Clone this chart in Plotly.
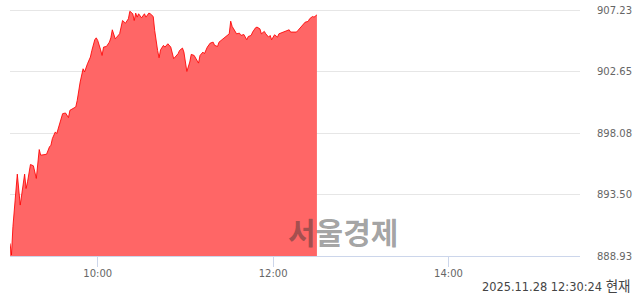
import plotly.graph_objects as go

day = "2025-11-28 "
times = ["09:00","09:01","09:02","09:05","09:07","09:08","09:10","09:11","09:12","09:14",
         "09:16","09:18","09:20","09:21","09:25","09:27","09:28","09:29","09:31","09:32",
         "09:34","09:36","09:38","09:40","09:41","09:43","09:45","09:46","09:48","09:50",
         "09:51","09:53","09:55","09:56","09:58","09:59","10:00","10:02","10:03","10:04",
         "10:06","10:08","10:09","10:10","10:12","10:13","10:15","10:16","10:17","10:19",
         "10:21","10:22","10:24","10:25","10:26","10:27","10:28","10:30","10:32","10:33",
         "10:35","10:36","10:38","10:39","10:40","10:41","10:42","10:43","10:45","10:46",
         "10:48","10:49","10:50","10:52","10:53","10:55","10:56","10:58","10:59","11:00",
         "11:01","11:03","11:04","11:06","11:08","11:09","11:10","11:12","11:13","11:15",
         "11:17","11:19","11:20","11:22","11:23","11:25","11:26","11:28","11:30","11:31",
         "11:32","11:33","11:35","11:37","11:38","11:40","11:42","11:43","11:45","11:46",
         "11:48","11:49","11:51","11:52","11:54","11:55","11:57","11:58","11:59","12:01",
         "12:03","12:04","12:06","12:08","12:09","12:11","12:12","12:14","12:16","12:17",
         "12:19","12:21","12:22","12:24","12:25","12:27","12:28","12:30"]
values = [889.87,889.00,891.11,895.02,892.72,893.63,895.02,893.95,894.45,895.74,
          895.64,894.70,896.85,896.43,896.50,897.05,897.17,897.67,898.16,898.04,
          898.78,899.52,899.57,899.23,899.77,899.89,900.02,900.51,901.87,902.86,
          902.62,903.23,903.73,904.22,905.02,905.16,904.97,904.27,903.85,904.47,
          904.52,904.84,905.16,905.76,905.09,905.21,905.46,905.96,906.45,906.25,
          906.58,907.14,906.95,906.45,907.00,906.70,906.95,906.65,906.95,906.70,
          907.00,906.95,906.75,905.71,904.84,904.22,903.68,904.27,904.60,904.47,
          904.72,904.60,904.47,903.61,903.73,903.98,904.22,904.40,904.10,903.36,
          902.66,903.36,903.93,903.85,903.48,903.28,903.85,904.10,903.98,904.47,
          904.77,904.84,904.60,904.52,904.84,905.02,905.09,905.26,905.46,906.40,
          906.01,905.83,905.46,905.51,905.34,905.41,905.02,905.26,905.34,905.59,
          905.91,905.96,905.83,905.46,905.64,905.46,905.21,905.34,905.02,905.39,
          905.21,905.46,905.54,905.64,905.71,905.76,905.59,905.59,905.59,905.71,
          905.96,906.16,906.33,906.38,906.58,906.75,906.70,906.87]
y_ticks = [888.93, 893.50, 898.08, 902.65, 907.23]
x_ticks = ["10:00", "12:00", "14:00"]
x_range = ["09:00", "15:30"]
stamp_time = "2025.11.28 12:30:24"
stamp_suffix = "현재"
watermark = "서울경제"

fig = go.Figure()
fig.add_trace(go.Scatter(
    x=[day + t for t in times], y=values, mode="lines",
    line=dict(color="rgba(255,0,0,0.85)", width=1),
    fill="tozeroy", fillcolor="rgb(255,102,102)",
    hoverinfo="skip", showlegend=False,
))

fig.update_layout(
    width=640, height=294,
    margin=dict(l=10, r=60, t=8, b=38, autoexpand=False),
    paper_bgcolor="white", plot_bgcolor="white",
    xaxis=dict(
        type="date", automargin=False,
        range=[day + x_range[0], day + x_range[1]],
        tickvals=[day + t for t in x_ticks], ticktext=x_ticks,
        showgrid=False, showline=True, linecolor="#ccd6eb", linewidth=1,
        ticks="outside", ticklen=10, tickcolor="#ccd6eb", tickwidth=1,
        ticklabelstandoff=-2,
        tickfont=dict(family="DejaVu Sans", size=10, color="#666666"),
        zeroline=False,
    ),
    yaxis=dict(
        range=[y_ticks[0], y_ticks[-1] + 0.15], side="right", automargin=False,
        tickvals=y_ticks, ticktext=[f"{v:.2f}" for v in y_ticks],
        showgrid=True, gridcolor="#e6e6e6", gridwidth=1,
        zeroline=False, showline=False, ticks="",
        ticklabelstandoff=16,
        tickfont=dict(family="DejaVu Sans", size=10, color="#666666"),
    ),
    annotations=[
        dict(text=watermark, xref="paper", yref="paper", x=0.584, y=0.1016,
             xanchor="center", yanchor="middle", showarrow=False,
             font=dict(family="Noto Sans CJK KR", size=30, color="rgba(50,50,50,0.45)", weight="bold")),
        dict(text=f"{stamp_time} <span style='font-family:Noto Sans CJK KR;font-size:13.5px'>{stamp_suffix}</span>",
             xref="paper", yref="paper", x=1.0912, y=-0.118,
             xanchor="right", yanchor="middle", showarrow=False,
             font=dict(family="DejaVu Sans", size=11.4, color="#444444")),
    ],
)

fig.write_html("out.html")
